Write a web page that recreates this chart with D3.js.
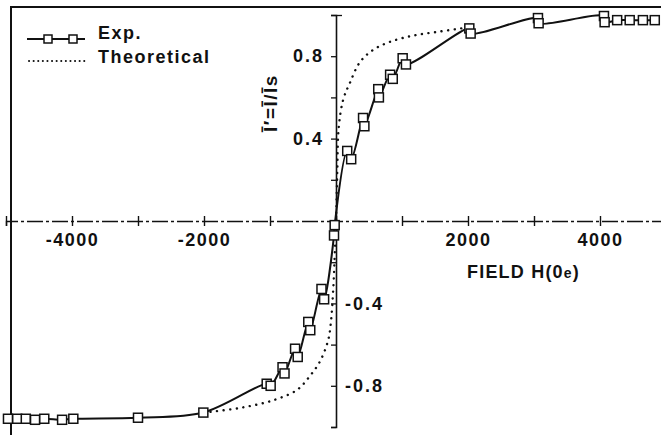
<!DOCTYPE html>
<html>
<head>
<meta charset="utf-8">
<script src="https://cdn.jsdelivr.net/npm/d3@7"></script>
<style>
  body { margin: 0; background: #fff; }
  text { font-family: "Liberation Sans", Arial, sans-serif; font-weight: bold; fill: #111; }
</style>
</head>
<body>
<div id="chart"></div>
<script>
// Experimental points (field in Oe, reduced magnetisation)
var expH = [-4970, -4830, -4700, -4560, -4420, -4150, -3980, -3000, -2010, -1050, -990, -810, -780, -620, -580, -420, -390, -220, -180, -30, -20,
            170, 230, 410, 430, 640, 650, 820, 860, 1010, 1060, 2020, 2040, 3060, 3070, 4060, 4070, 4260, 4450, 4650, 4830];
var expM = [-0.96, -0.96, -0.96, -0.965, -0.96, -0.965, -0.96, -0.955, -0.93, -0.79, -0.80, -0.71, -0.74, -0.62, -0.66, -0.49, -0.53, -0.33, -0.38, -0.07, -0.02,
            0.34, 0.30, 0.50, 0.46, 0.64, 0.60, 0.71, 0.69, 0.79, 0.76, 0.935, 0.91, 0.985, 0.96, 0.995, 0.965, 0.975, 0.975, 0.975, 0.975];

// Theoretical curve
var theoH = [-2000, -1860, -1410, -950, -590, -390, -240, -120, -80, -40, -20, 0, 20, 40, 110, 210, 360, 560, 820, 1170, 1580, 2000];
var theoM = [-0.93, -0.925, -0.905, -0.87, -0.82, -0.75, -0.68, -0.58, -0.50, -0.32, -0.17, 0, 0.25, 0.45, 0.59, 0.67, 0.77, 0.83, 0.87, 0.90, 0.92, 0.94];

var xTicks = [-5000, -4000, -3000, -2000, -1000, 0, 1000, 2000, 3000, 4000, 5000];
var xLabels = [-4000, -2000, 2000, 4000];
var yTicks = [-1, -0.8, -0.6, -0.4, -0.2, 0.2, 0.4, 0.6, 0.8, 1];
var yLabels = [-0.8, -0.4, 0.4, 0.8];

var svgWidth = 661;
var svgHeight = 435;

var svg = d3.select("#chart")
  .append("svg")
  .attr("width", svgWidth)
  .attr("height", svgHeight);

var x = d3.scaleLinear().domain([-5000, 5000]).range([6, 666]);
var y = d3.scaleLinear().domain([-1, 1]).range([427, 15]);

// frame (right and bottom fall outside the picture)
svg.append("rect")
  .attr("x", 11).attr("y", 7)
  .attr("width", 700).attr("height", 500)
  .attr("fill", "none").attr("stroke", "#111").attr("stroke-width", 2);

// x axis, dash-dot through the origin
var xAxis = svg.append("g")
  .attr("transform", "translate(0," + y(0) + ")")
  .call(d3.axisBottom(x).tickValues(xTicks).tickSizeOuter(0).tickSize(5)
    .tickFormat(function (d) { return xLabels.indexOf(d) >= 0 ? String(d) : ""; }));
xAxis.select(".domain")
  .attr("stroke", "#111").attr("stroke-width", 1.4)
  .attr("stroke-dasharray", "16,3,3,3");
xAxis.selectAll(".tick line").attr("y1", -5).attr("y2", 5).attr("stroke", "#111").attr("stroke-width", 1.4);
xAxis.selectAll(".tick text")
  .attr("y", 25).attr("dy", null)
  .style("font-size", "18px").style("letter-spacing", "1.5px")
  .attr("fill", "#111");

// y axis through the origin
var yAxis = svg.append("g")
  .attr("transform", "translate(" + x(0) + ",0)")
  .call(d3.axisLeft(y).tickValues(yTicks).tickSizeOuter(0).tickSize(5)
    .tickFormat(function (d) { return yLabels.indexOf(d) >= 0 ? String(d) : ""; }));
yAxis.select(".domain").attr("stroke", "#111").attr("stroke-width", 1.6);
yAxis.selectAll(".tick line").attr("stroke", "#111").attr("stroke-width", 1.3)
  .attr("x2", -5)
  .attr("x1", function (d) { return d === 1 ? 6 : 0; });
yAxis.selectAll(".tick text")
  .style("font-size", "18px").style("letter-spacing", "2px")
  .attr("fill", "#111")
  .attr("x", function (d) { return d > 0 ? -12 : 9; })
  .attr("text-anchor", function (d) { return d > 0 ? "end" : "start"; });

// axis titles
var xTitle = svg.append("text")
  .attr("x", 467).attr("y", 278)
  .style("font-size", "18px").style("letter-spacing", "1.2px");
xTitle.append("tspan").text("FIELD H(0");
xTitle.append("tspan").style("font-size", "14px").text("e");
xTitle.append("tspan").text(")");

svg.append("text")
  .attr("transform", "translate(277,103) rotate(-90)")
  .attr("text-anchor", "middle")
  .style("font-size", "19px").style("letter-spacing", "1.5px")
  .text("Ī′=Ī/Īs");

// theoretical curve (dotted)
var theoData = theoH.map(function (h, i) { return [h, theoM[i]]; });
svg.append("path")
  .datum(theoData)
  .attr("fill", "none").attr("stroke", "#111").attr("stroke-width", 2.4)
  .attr("stroke-linecap", "round").attr("stroke-dasharray", "0.1,6.5")
  .attr("d", d3.line().curve(d3.curveCatmullRom.alpha(0.5))
    .x(function (d) { return x(d[0]); }).y(function (d) { return y(d[1]); }));

// experimental line + markers
var expData = expH.map(function (h, i) { return [h, expM[i]]; });
svg.append("path")
  .datum(expData)
  .attr("fill", "none").attr("stroke", "#111").attr("stroke-width", 2)
  .attr("d", d3.line().curve(d3.curveCatmullRom.alpha(0.5))
    .x(function (d) { return x(d[0]); }).y(function (d) { return y(d[1]); }));

svg.selectAll("rect.pt")
  .data(expData)
  .enter()
  .append("rect")
  .attr("class", "pt")
  .attr("x", function (d) { return x(d[0]) - 4.5; })
  .attr("y", function (d) { return y(d[1]) - 4.5; })
  .attr("width", 9).attr("height", 9)
  .attr("fill", "#fff").attr("stroke", "#111").attr("stroke-width", 1.5);

// legend
var legend = svg.append("g");
legend.append("line").attr("x1", 27).attr("x2", 85).attr("y1", 39).attr("y2", 39)
  .attr("stroke", "#111").attr("stroke-width", 2);
[48, 73].forEach(function (cx) {
  legend.append("rect").attr("x", cx - 4).attr("y", 35).attr("width", 8).attr("height", 8)
    .attr("fill", "#fff").attr("stroke", "#111").attr("stroke-width", 1.5);
});
legend.append("text").attr("x", 98).attr("y", 39)
  .style("font-size", "18px").style("letter-spacing", "1.5px").text("Exp.");
legend.append("line").attr("x1", 29).attr("x2", 85).attr("y1", 61).attr("y2", 61)
  .attr("stroke", "#111").attr("stroke-width", 2).attr("stroke-linecap", "round")
  .attr("stroke-dasharray", "0.1,4.5");
legend.append("text").attr("x", 98).attr("y", 63)
  .style("font-size", "18px").style("letter-spacing", "1.5px").text("Theoretical");
</script>
</body>
</html>
